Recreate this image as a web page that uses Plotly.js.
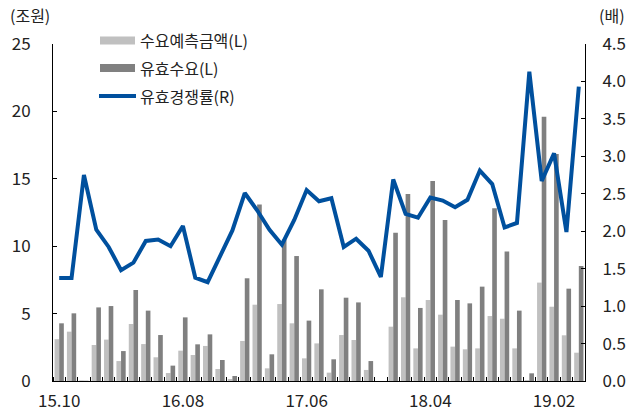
<!DOCTYPE html>
<html><head><meta charset="utf-8">
<script src="https://cdn.plot.ly/plotly-3.0.1.min.js"></script>
<style>html,body{margin:0;padding:0;background:#fff}#chart{width:630px;height:414px}</style>
</head><body><div id="chart"></div>
<script>
const months = ['15.10','15.11','15.12','16.01','16.02','16.03','16.04','16.05','16.06','16.07',
  '16.08','16.09','16.10','16.11','16.12','17.01','17.02','17.03','17.04','17.05',
  '17.06','17.07','17.08','17.09','17.10','17.11','17.12','18.01','18.02','18.03',
  '18.04','18.05','18.06','18.07','18.08','18.09','18.10','18.11','18.12','19.01',
  '19.02','19.03','19.04'];
// 수요예측금액 (조원, left axis)
const forecast = [3.1,3.66,0.05,2.67,3.07,1.48,4.23,2.74,1.76,0.59,
  2.25,1.93,2.6,0.89,0.15,2.97,5.66,0.94,5.71,4.28,
  1.68,2.79,0.62,3.41,3.04,0.82,0,4.03,6.21,2.42,
  6.01,4.92,2.55,2.35,2.42,4.82,4.62,2.42,0.07,7.3,
  5.51,3.39,2.1];
// 유효수요 (조원, left axis)
const effective = [4.28,5.02,0.02,5.46,5.56,2.22,6.75,5.22,3.41,1.14,
  4.72,2.72,3.46,1.56,0.37,7.62,13.1,1.98,10.5,9.27,
  4.48,6.8,1.61,6.18,5.83,1.48,0,11.0,13.87,5.42,
  14.84,11.94,6.01,5.76,7.0,12.81,9.6,5.22,0.57,19.6,
  16.84,6.85,8.53];
// 유효경쟁률 (배, right axis)
const ratio = [1.375,1.375,2.75,2.02,1.79,1.48,1.58,1.87,1.89,1.80,
  2.07,1.38,1.32,1.66,2.01,2.51,2.28,2.02,1.82,2.15,
  2.55,2.40,2.44,1.79,1.90,1.74,1.39,2.69,2.23,2.18,
  2.45,2.41,2.32,2.42,2.81,2.63,2.05,2.11,4.13,2.67,
  3.04,1.99,3.93];
const tickLabels = ['15.10','16.08','17.06','18.04','19.02'];
const seriesNames = ['수요예측금액(L)','유효수요(L)','유효경쟁률(R)'];
const unitLeft = '(조원)';
const unitRight = '(배)';

const xIdx = months.map((m, i) => i);
const FONT = 'Noto Sans CJK KR, Noto Sans, sans-serif';
const TXT = '#222';
const C_LIGHT = '#c0c0c0', C_DARK = '#808080', C_LINE = '#00509e';

// layout geometry (pixels) -> paper coords
const L = 53, R = 585, T = 44, B = 381;
const px = x => (x - L) / (R - L);
const py = y => (B - y) / (B - T);

const traces = [
  {type:'bar', x:xIdx, y:forecast, name:seriesNames[0], marker:{color:C_LIGHT}, hoverinfo:'skip'},
  {type:'bar', x:xIdx, y:effective, name:seriesNames[1], marker:{color:C_DARK}, hoverinfo:'skip'},
  {type:'scatter', mode:'lines', x:xIdx, y:ratio, name:seriesNames[2], yaxis:'y2',
   line:{color:C_LINE, width:4, shape:'linear'}, hoverinfo:'skip'}
];

const legendRows = [
  {y:40.5, kind:'bar', color:C_LIGHT, text:seriesNames[0]},
  {y:68, kind:'bar', color:C_DARK, text:seriesNames[1]},
  {y:96, kind:'line', color:C_LINE, text:seriesNames[2]}
];
const shapes = [], annotations = [];
legendRows.forEach(r => {
  if (r.kind === 'bar') {
    shapes.push({type:'rect', xref:'paper', yref:'paper', x0:px(100), x1:px(135), y0:py(r.y-4), y1:py(r.y+4),
      fillcolor:r.color, line:{width:0}});
  } else {
    shapes.push({type:'line', xref:'paper', yref:'paper', x0:px(99), x1:px(136), y0:py(r.y), y1:py(r.y),
      line:{color:r.color, width:4}});
  }
  annotations.push({xref:'paper', yref:'paper', x:px(138), y:py(r.y), xanchor:'left', yanchor:'middle',
    text:r.text, showarrow:false, font:{family:FONT, size:16, color:TXT}});
});
annotations.push({xref:'paper', yref:'paper', x:px(30), y:py(15), xanchor:'center', yanchor:'middle',
  text:unitLeft, showarrow:false, font:{family:FONT, size:16, color:TXT}});
annotations.push({xref:'paper', yref:'paper', x:px(612), y:py(15), xanchor:'center', yanchor:'middle',
  text:unitRight, showarrow:false, font:{family:FONT, size:16, color:TXT}});

const layout = {
  width:630, height:414,
  margin:{l:L, r:630-R, t:T, b:414-B, pad:0},
  paper_bgcolor:'#fff', plot_bgcolor:'#fff',
  showlegend:false,
  barmode:'group', bargap:0.25, bargroupgap:0,
  font:{family:FONT, size:17, color:TXT},
  xaxis:{
    range:[-0.5, months.length-0.5], tickmode:'array',
    tickvals:tickLabels.map(t => months.indexOf(t)), ticktext:tickLabels,
    ticks:'', showline:true, linecolor:'#000', linewidth:1, showgrid:false, zeroline:false,
    ticklabelstandoff:5,
    minor:{tickmode:'linear', tick0:0.5, dtick:1, ticks:'inside', ticklen:4, tickcolor:'#000', tickwidth:1, showgrid:false},
    tickfont:{family:FONT, size:17, color:TXT}, fixedrange:true
  },
  yaxis:{
    range:[0,25], tickmode:'linear', tick0:0, dtick:5, ticks:'inside', ticklen:4, tickcolor:'#000',
    showline:true, linecolor:'#000', linewidth:1, showgrid:false, zeroline:false,
    ticklabelstandoff:18, tickfont:{family:FONT, size:17, color:TXT}, fixedrange:true
  },
  yaxis2:{
    overlaying:'y', side:'right', range:[0,4.5], tickmode:'linear', tick0:0, dtick:0.5, tickformat:'.1f',
    ticks:'inside', ticklen:4, tickcolor:'#000', showline:true, linecolor:'#000', linewidth:1,
    showgrid:false, zeroline:false, ticklabelstandoff:13,
    tickfont:{family:FONT, size:17, color:TXT}, fixedrange:true
  },
  shapes:shapes, annotations:annotations
};
Plotly.newPlot('chart', traces, layout, {staticPlot:true, displayModeBar:false});
</script>
</body></html>
